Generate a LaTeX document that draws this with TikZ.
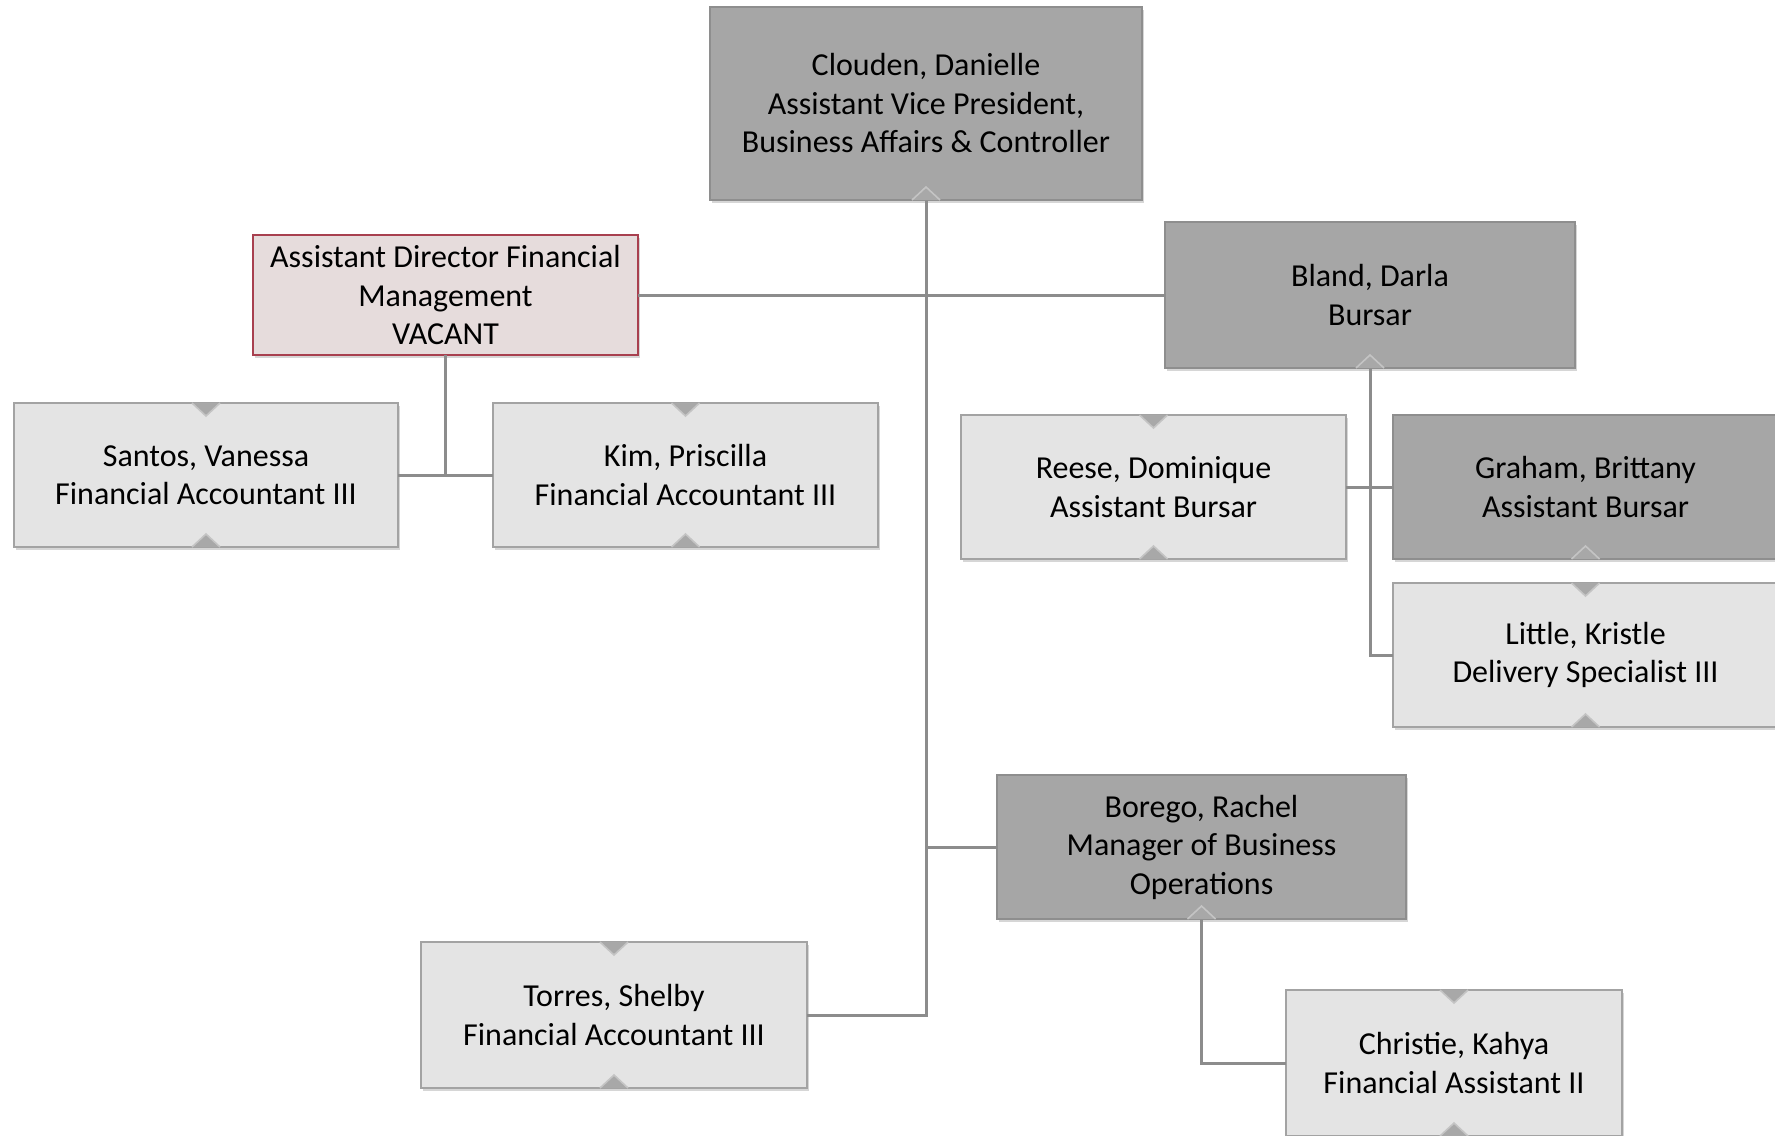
\documentclass[tikz,border=0pt]{standalone}
\usepackage{fontspec}
\setmainfont{Carlito}
\usetikzlibrary{shadows}
\definecolor{darkfill}{HTML}{A6A6A6}
\definecolor{darkline}{HTML}{8E8E8E}
\definecolor{lightfill}{HTML}{E4E4E4}
\definecolor{lightline}{HTML}{A3A3A3}
\definecolor{vacfill}{HTML}{E6DCDC}
\definecolor{vacline}{HTML}{A8404F}
\definecolor{connc}{HTML}{8C8C8C}
\definecolor{markfill}{HTML}{A8A8A8}
\definecolor{markedge}{HTML}{C4C4C4}
\newcommand\mytopmark[1]{%
  \fill[markfill] ([xshift=-7pt]#1.north) -- ([xshift=7pt]#1.north) -- ([yshift=-6.5pt]#1.north) -- cycle;
  \draw[markedge, line width=0.8pt] ([xshift=-7pt]#1.north) -- ([yshift=-6.5pt]#1.north) -- ([xshift=7pt]#1.north);}
\newcommand\mybotmark[1]{%
  \fill[markfill] ([xshift=-7pt]#1.south) -- ([xshift=7pt]#1.south) -- ([yshift=6.5pt]#1.south) -- cycle;
  \draw[markedge, line width=0.8pt] ([xshift=-7pt]#1.south) -- ([yshift=6.5pt]#1.south) -- ([xshift=7pt]#1.south);}
\begin{document}
\begin{tikzpicture}[x=0.5pt,y=-0.5pt,
  box/.style={rectangle, align=center, outer sep=0pt, inner sep=2pt,
    font=\fontsize{16}{19.25}\selectfont,
    drop shadow={shadow xshift=1pt, shadow yshift=-1.5pt, fill=black, opacity=0.16}},
  darkbox/.style={box, fill=darkfill, draw=darkline, line width=1.3pt},
  lightbox/.style={box, fill=lightfill, draw=lightline, line width=1pt},
  vacbox/.style={box, fill=vacfill, draw=vacline, line width=1pt},
  conn/.style={draw=connc, line width=1.5pt}]
\useasboundingbox (0,0) rectangle (1775,1135);

\node[darkbox, minimum width=216pt, minimum height=96.5pt] (clouden) at (926,103.5)
  {Clouden, Danielle\\Assistant Vice President,\\Business Affairs \& Controller};
\node[vacbox, minimum width=192.5pt, minimum height=60pt] (asst) at (445.5,295)
  {Assistant Director Financial\\Management\\VACANT};
\node[lightbox, minimum width=192pt, minimum height=72pt] (santos) at (206,475)
  {Santos, Vanessa\\Financial Accountant III};
\node[lightbox, minimum width=192.5pt, minimum height=72pt] (kim) at (685.5,475)
  {Kim, Priscilla\\Financial Accountant III};
\node[darkbox, minimum width=205pt, minimum height=73pt] (bland) at (1370,295)
  {Bland, Darla\\Bursar};
\node[lightbox, minimum width=192.5pt, minimum height=72pt] (reese) at (1153.5,487)
  {Reese, Dominique\\Assistant Bursar};
\node[darkbox, minimum width=192.5pt, minimum height=72pt] (graham) at (1585.5,487)
  {Graham, Brittany\\Assistant Bursar};
\node[lightbox, minimum width=192.5pt, minimum height=72pt] (little) at (1585.5,655)
  {Little, Kristle\\Delivery Specialist III};
\node[darkbox, minimum width=204.5pt, minimum height=72pt] (borego) at (1201.5,847)
  {Borego, Rachel\\Manager of Business\\Operations};
\node[lightbox, minimum width=193pt, minimum height=73pt] (torres) at (614,1015)
  {Torres, Shelby\\Financial Accountant III};
\node[lightbox, minimum width=168pt, minimum height=73pt] (christie) at (1454,1063)
  {Christie, Kahya\\Financial Assistant II};

% connectors
\draw[conn] (clouden.south) |- (torres.east);
\draw[conn] (asst.east) -- (bland.west);
\draw[conn] (borego.west) -- (borego.west -| clouden.south);
\draw[conn] (asst.south) |- (santos.east);
\draw[conn] (asst.south) |- (kim.west);
\draw[conn] (bland.south) |- (little.west);
\draw[conn] (reese.east) -- (graham.west);
\draw[conn] (borego.south) |- (christie.west);

% markers
\mybotmark{clouden}
\mytopmark{santos}\mybotmark{santos}
\mytopmark{kim}\mybotmark{kim}
\mybotmark{bland}
\mytopmark{reese}\mybotmark{reese}
\mybotmark{graham}
\mytopmark{little}\mybotmark{little}
\mybotmark{borego}
\mytopmark{torres}\mybotmark{torres}
\mytopmark{christie}\mybotmark{christie}
\end{tikzpicture}
\end{document}
